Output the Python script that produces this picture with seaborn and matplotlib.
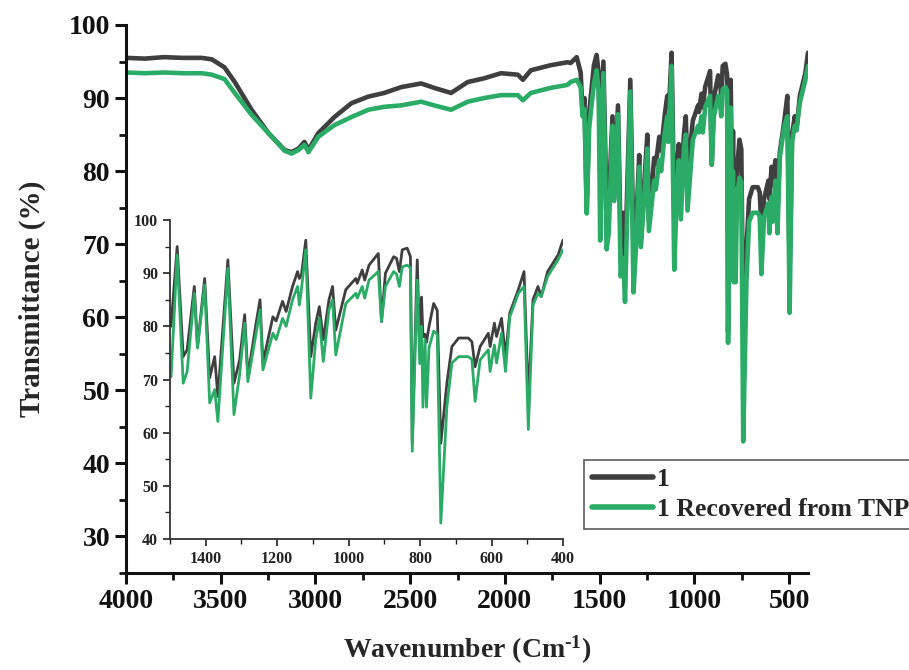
import numpy as np
import pandas as pd
import matplotlib
matplotlib.use("Agg")
import matplotlib.pyplot as plt
from matplotlib.ticker import MultipleLocator
from matplotlib.lines import Line2D
import seaborn as sns

# ---------------- data ----------------
# broad region 4000-1480 cm-1
wn_main = [4000, 3900, 3800, 3700, 3600, 3547, 3480, 3426, 3337, 3248, 3163, 3126,
           3089, 3058, 3037, 2985, 2900, 2810, 2721, 2637, 2547, 2442, 2374, 2284,
           2196, 2110, 2021, 1932, 1905, 1863, 1758, 1670, 1653, 1621, 1600, 1590,
           1580, 1568, 1555, 1530, 1516, 1505]
t1_main = [95.5, 95.4, 95.6, 95.5, 95.5, 95.3, 94.2, 92.2, 88.4, 85.2, 82.9, 82.6,
           83.1, 84.0, 82.9, 85.2, 87.4, 89.3, 90.2, 90.7, 91.5, 92.0, 91.4, 90.7,
           92.2, 92.7, 93.4, 93.2, 92.5, 93.8, 94.5, 94.9, 94.8, 95.6, 93.5, 88.0,
           90.0, 74.5, 88.0, 94.5, 95.9, 93.5]
t2_main = [93.5, 93.4, 93.5, 93.4, 93.4, 93.2, 92.6, 90.7, 87.7, 85.2, 82.8, 82.4,
           82.9, 83.6, 82.6, 84.7, 86.3, 87.4, 88.4, 88.8, 89.0, 89.5, 89.0, 88.4,
           89.5, 90.0, 90.4, 90.4, 89.7, 90.7, 91.4, 91.8, 92.2, 92.5, 91.5, 87.5,
           88.5, 74.2, 86.0, 92.0, 93.8, 91.0]

# fingerprint region 1500-400 cm-1 (also shown in the inset)
wn_fp = [1497, 1480, 1463, 1452, 1432, 1423, 1403, 1389, 1375, 1366, 1338, 1321,
         1305, 1291, 1282, 1259, 1248, 1240, 1212, 1203, 1185, 1175, 1157, 1143,
         1138, 1132, 1120, 1106, 1092, 1082, 1071, 1055, 1045, 1036, 1008, 980,
         976, 962, 955, 943, 917, 908, 897, 874, 866, 858, 850, 836, 827, 822,
         808, 801, 796, 792, 786, 782, 775, 762, 752, 742, 725, 711, 692, 665,
         655, 646, 632, 609, 604, 592, 586, 572, 561, 549, 525, 509, 497, 484,
         470, 461, 443, 414, 400]
t1_fp = [80.0, 95.0, 74.3, 75.6, 87.5, 76.2, 89.0, 70.3, 74.3, 66.8, 92.5, 69.3,
         73.7, 82.2, 70.6, 80.6, 85.0, 73.1, 81.8, 81.0, 84.7, 82.8, 87.5, 90.3,
         89.0, 89.7, 96.2, 74.3, 80.6, 83.7, 77.5, 85.0, 87.5, 79.3, 86.9, 89.0,
         88.1, 90.6, 88.7, 91.5, 93.7, 80.9, 90.0, 93.1, 92.8, 90.3, 94.4, 94.7,
         93.1, 58.0, 92.5, 75.5, 85.5, 78.0, 78.5, 77.0, 80.0, 84.3, 83.0, 58.0,
         69.3, 76.2, 77.8, 77.8, 77.1, 72.4, 76.2, 78.7, 76.2, 80.6, 78.1, 81.5,
         74.3, 82.5, 86.9, 90.3, 66.0, 85.0, 87.5, 85.6, 90.3, 93.4, 96.2]
t2_fp = [70.5, 93.4, 69.3, 71.5, 86.2, 75.9, 87.8, 65.6, 68.1, 62.1, 90.9, 63.4,
         71.0, 80.6, 69.6, 78.7, 83.1, 71.8, 78.7, 77.5, 81.5, 80.0, 85.0, 87.5,
         84.0, 87.0, 94.4, 66.5, 77.5, 81.5, 73.4, 83.1, 85.0, 74.6, 84.3, 86.2,
         85.3, 87.5, 85.3, 88.7, 90.3, 80.9, 87.5, 90.3, 89.8, 87.5, 91.2, 91.5,
         91.0, 56.5, 88.7, 73.0, 80.0, 64.8, 77.5, 64.8, 76.0, 79.1, 78.5, 43.0,
         64.9, 73.1, 74.3, 74.3, 73.8, 65.9, 73.7, 75.6, 71.5, 76.5, 73.1, 78.7,
         71.5, 81.8, 86.2, 87.5, 60.6, 84.0, 86.2, 85.6, 89.4, 92.5, 94.4]

labels = ["1", "1 Recovered from TNP"]
colors = ["#3f3f3f", "#2aab66"]

main_x_ticks = [4000, 3500, 3000, 2500, 2000, 1500, 1000, 500]
main_y_ticks = [30, 40, 50, 60, 70, 80, 90, 100]
inset_x_ticks = [1400, 1200, 1000, 800, 600, 400]
inset_y_ticks = [40, 50, 60, 70, 80, 90, 100]

# ---------------- tables ----------------
wn_all = wn_main + wn_fp
df_all = pd.DataFrame({
    "wn": wn_all * 2,
    "T": t1_main + t1_fp + t2_main + t2_fp,
    "sample": [labels[0]] * len(wn_all) + [labels[1]] * len(wn_all),
})
df_fp = pd.DataFrame({
    "wn": wn_fp * 2,
    "T": t1_fp + t2_fp,
    "sample": [labels[0]] * len(wn_fp) + [labels[1]] * len(wn_fp),
})

# ---------------- style ----------------
sns.set_style("ticks")
plt.rcParams["font.family"] = ["Liberation Serif", "DejaVu Serif"]
plt.rcParams["font.weight"] = "bold"
plt.rcParams["mathtext.fontset"] = "custom"
plt.rcParams["mathtext.rm"] = "Liberation Serif:bold"
plt.rcParams["mathtext.bf"] = "Liberation Serif:bold"
plt.rcParams["mathtext.it"] = "Liberation Serif:bold"

fig = plt.figure(figsize=(9.09, 6.70), dpi=100)
ax = fig.add_axes([126 / 909, 97 / 670, (808 - 126) / 909, (573 - 25) / 670])

sns.lineplot(data=df_all, x="wn", y="T", hue="sample", palette=colors,
             estimator=None, sort=False, lw=3.3, ax=ax, legend=False)

ax.set_xlim(4000, 400)
ax.set_ylim(25, 100)
ax.set_xticks(main_x_ticks)
ax.set_yticks(main_y_ticks)
ax.xaxis.set_minor_locator(MultipleLocator(250))
ax.yaxis.set_minor_locator(MultipleLocator(5))
for s in ["top", "right"]:
    ax.spines[s].set_visible(False)
for s in ["left", "bottom"]:
    ax.spines[s].set_linewidth(2.2)
    ax.spines[s].set_color("#111111")
ax.tick_params(which="major", length=8, width=2.2, labelsize=20, direction="out",
               colors="#111111")
ax.tick_params(which="minor", length=5, width=2.0, direction="out", colors="#111111")
for lab in ax.get_xticklabels() + ax.get_yticklabels():
    lab.set_fontweight("bold")
ax.set_xlabel(r"Wavenumber (Cm$^{\mathbf{\text{-}1}}$)", fontsize=20, fontweight="bold",
              labelpad=14)
ax.set_ylabel("Transmittance (%)", fontsize=21, fontweight="bold", labelpad=16)

# ---------------- inset ----------------
axi = fig.add_axes([170 / 909, (670 - 539) / 670, (563 - 170) / 909, (539 - 220) / 670])
axi.set_facecolor("none")
sns.lineplot(data=df_fp, x="wn", y="T", hue="sample", palette=colors,
             estimator=None, sort=False, lw=2.0, ax=axi, legend=False)
axi.set_xlim(1500, 400)
axi.set_ylim(40, 100)
axi.set_xticks(inset_x_ticks)
axi.set_yticks(inset_y_ticks)
axi.xaxis.set_minor_locator(MultipleLocator(100))
axi.yaxis.set_minor_locator(MultipleLocator(5))
for s in ["top", "right"]:
    axi.spines[s].set_visible(False)
for s in ["left", "bottom"]:
    axi.spines[s].set_linewidth(1.3)
    axi.spines[s].set_color("#333333")
axi.tick_params(which="major", length=5, width=1.2, labelsize=11.5, direction="out",
                colors="#222222")
axi.tick_params(which="minor", length=3.5, width=1.0, direction="out", colors="#222222")
axi.set_xlabel("")
axi.set_ylabel("")
for lab in axi.get_xticklabels() + axi.get_yticklabels():
    lab.set_fontweight("bold")

# ---------------- legend ----------------
handles = [Line2D([], [], color=c, lw=4.0) for c in colors]
leg = fig.legend(handles, labels, loc="upper left",
                 bbox_to_anchor=(584 / 909, (670 - 460) / 670),
                 prop={"family": "Liberation Serif", "weight": "bold", "size": 18.5},
                 frameon=True, fancybox=False, edgecolor="#333333",
                 handlelength=2.4, handletextpad=0.15, labelspacing=0.3,
                 borderpad=0.3, borderaxespad=0.0)
leg.get_frame().set_linewidth(1.2)

fig.savefig("out.png", dpi=100)
